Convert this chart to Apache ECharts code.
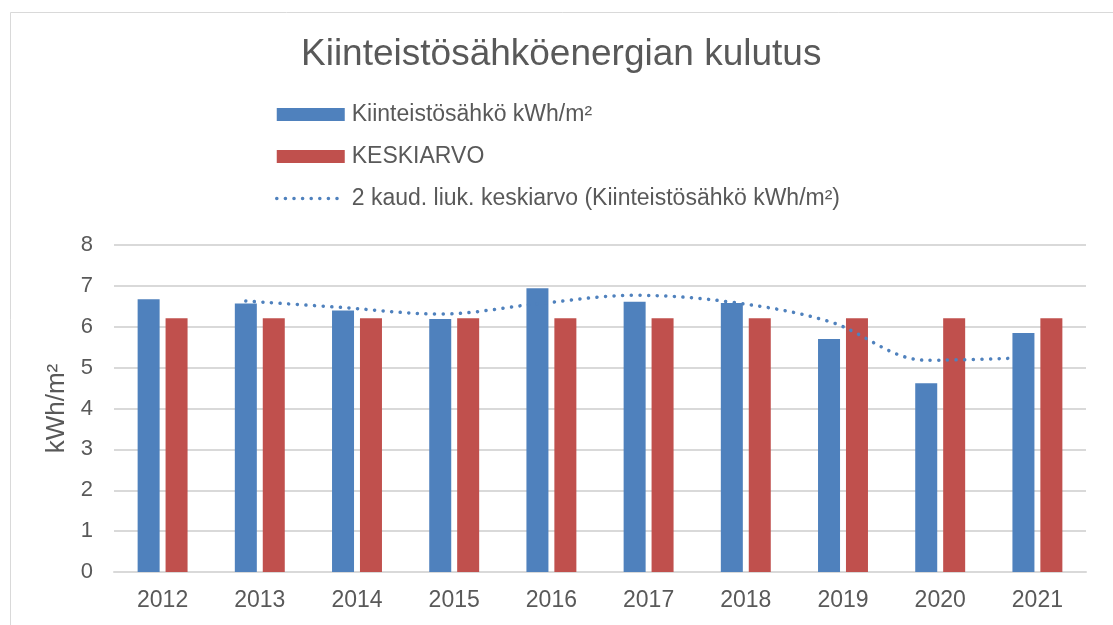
<!DOCTYPE html>
<html>
<head>
<meta charset="utf-8">
<script src="https://cdn.jsdelivr.net/npm/echarts@6/dist/echarts.min.js"></script>
<style>
html,body{margin:0;padding:0;background:#fff;}
#chart{width:1113px;height:625px;}
</style>
</head>
<body>
<div id="chart"></div>
<script>
var years = ['2012','2013','2014','2015','2016','2017','2018','2019','2020','2021'];
var sahko = [6.67, 6.57, 6.40, 6.19, 6.94, 6.61, 6.58, 5.70, 4.62, 5.85];
var keskiarvo = [6.21, 6.21, 6.21, 6.21, 6.21, 6.21, 6.21, 6.21, 6.21, 6.21];
var liukuva = [null, 6.63, 6.47, 6.31, 6.56, 6.77, 6.60, 6.13, 5.18, 5.24];
var yTicks = [0, 8, 1];

var titleText = 'Kiinteistösähköenergian kulutus';
var name1 = 'Kiinteistösähkö kWh/m²';
var name2 = 'KESKIARVO';
var name3 = '2 kaud. liuk. keskiarvo (Kiinteistösähkö kWh/m²)';

var FONT = '"Liberation Sans", Arial, sans-serif';
var TXT = '#595959';
var GRID = '#d9d9d9';
var BLUE = '#4f81bd';
var RED = '#c0504d';
var DOTS = {color: BLUE, width: 3.5, type: [0.1, 8.5], cap: 'round'};

var chart = echarts.init(document.getElementById('chart'), null, {renderer: 'canvas'});
chart.setOption({
  animation: false,
  backgroundColor: '#fff',
  textStyle: {fontFamily: FONT},
  graphic: [{
    type: 'rect', left: 8, top: 10, silent: true,
    shape: {width: 1200, height: 700},
    style: {fill: 'none', stroke: GRID, lineWidth: 1}
  }],
  title: {
    text: titleText,
    left: 296, top: 31,
    textStyle: {fontFamily: FONT, fontSize: 37, fontWeight: 'normal', color: TXT}
  },
  legend: {
    orient: 'vertical',
    left: 270, top: 98,
    itemWidth: 68, itemHeight: 13, itemGap: 19,
    data: [
      {name: name1, icon: 'rect'},
      {name: name2, icon: 'rect'},
      {name: name3, itemStyle: {opacity: 0}, lineStyle: DOTS}
    ],
    textStyle: {fontFamily: FONT, fontSize: 23, color: TXT, padding: [0,0,0,2]}
  },
  grid: [
    {left: 114, right: 27, top: 245, bottom: 53},
    {left: 100, right: 41, top: 245, bottom: 53}
  ],
  xAxis: [{
    type: 'category', data: years, gridIndex: 0,
    axisLine: {lineStyle: {color: GRID, width: 2}},
    axisTick: {show: false},
    axisLabel: {fontFamily: FONT, fontSize: 23, color: TXT, margin: 17}
  }, {
    type: 'category', data: years, gridIndex: 1, show: false
  }],
  yAxis: [{
    type: 'value', gridIndex: 0,
    min: yTicks[0], max: yTicks[1], interval: yTicks[2],
    name: 'kWh/m²', nameLocation: 'middle', nameGap: 42, nameRotate: 90,
    nameTextStyle: {fontFamily: FONT, fontSize: 26, color: TXT},
    axisLine: {show: false}, axisTick: {show: false},
    axisLabel: {fontFamily: FONT, fontSize: 22, color: TXT, margin: 21},
    splitLine: {lineStyle: {color: GRID, width: 2}}
  }, {
    type: 'value', gridIndex: 1, show: false,
    min: yTicks[0], max: yTicks[1], interval: yTicks[2],
    splitLine: {show: false}
  }],
  series: [{
    name: name1, type: 'bar', data: sahko,
    xAxisIndex: 0, yAxisIndex: 0,
    barWidth: 22, barGap: '27%',
    itemStyle: {color: BLUE}
  }, {
    name: name2, type: 'bar', data: keskiarvo,
    xAxisIndex: 0, yAxisIndex: 0,
    barWidth: 22, barGap: '27%',
    itemStyle: {color: RED}
  }, {
    name: name3, type: 'line', data: liukuva,
    xAxisIndex: 1, yAxisIndex: 1,
    smooth: 0.35, symbol: 'none', connectNulls: false, z: 5,
    itemStyle: {color: BLUE},
    lineStyle: DOTS
  }]
});
</script>
</body>
</html>
